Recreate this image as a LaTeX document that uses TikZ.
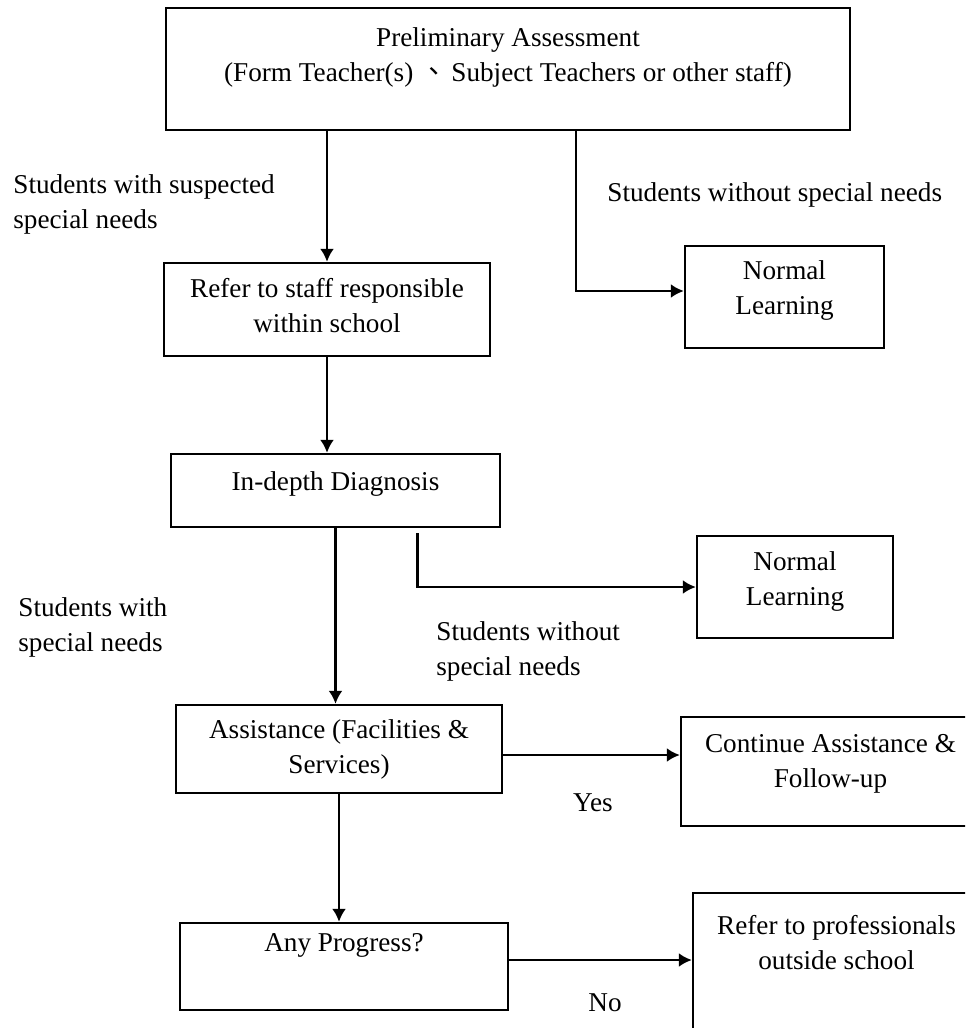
\documentclass[tikz,border=0pt]{standalone}
\usepackage{fontspec}
\setmainfont{Liberation Serif}
\newfontfamily\cjk{Noto Sans CJK TC}
\usetikzlibrary{arrows.meta}

\begin{document}
\fontsize{13.6}{17.5}\selectfont
\begin{tikzpicture}[x=0.5pt,y=-0.5pt,
  box/.style={draw,line width=1.15pt,align=center,inner sep=0pt},
  lbl/.style={align=left,inner sep=0pt,anchor=west},
  arr/.style={draw,line width=1.35pt,-{Latex[length=6.5pt,width=7pt]}}]
\useasboundingbox (0,0) rectangle (965,1028);
\clip (0,0) rectangle (965,1028);

\node[box,minimum width=342pt,minimum height=61pt,text depth=14.5pt] (prelim) at (508,69)
  {Preliminary Assessment\\(Form Teacher(s)\hspace{0.25em}{\cjk 、}\hspace{0.15em}Subject Teachers or other staff)};
\node[box,minimum width=163pt,minimum height=46.5pt,text depth=4.5pt] (staff) at (327,309.5)
  {Refer to staff responsible\\within school};
\node[box,minimum width=99.5pt,minimum height=51pt,text depth=9.5pt] (normal1) at (784.5,297)
  {Normal\\Learning};
\node[box,minimum width=164.5pt,minimum height=36.5pt,text depth=9pt] (diag) at (335.5,490.5)
  {In-depth Diagnosis};
\node[box,minimum width=98pt,minimum height=51pt,text depth=8pt] (normal2) at (795,587)
  {Normal\\Learning};
\node[box,minimum width=163pt,minimum height=44pt] (assist) at (339,749)
  {Assistance (Facilities \&\\Services)};
\node[box,minimum width=149.5pt,minimum height=54.5pt,text depth=11pt] (cont) at (830.5,771.5)
  {Continue Assistance \&\\Follow-up};
\node[box,minimum width=164pt,minimum height=43.5pt,text depth=24pt] (progress) at (344,966.5)
  {Any Progress?};
\node[box,minimum width=143.5pt,minimum height=76pt,text depth=27pt] (prof) at (836.5,969)
  {Refer to professionals\\outside school};

\node[lbl] (suspect) at (13,204) {Students with suspected\\special needs};
\node[lbl] (without1) at (607,195) {Students without special needs};
\node[lbl] (with) at (18,627) {Students with\\special needs};
\node[lbl] (without2) at (436,651) {Students without\\special needs};
\node (yes) at (593,803) {Yes};
\node (no) at (605,1003) {No};

\path[arr] (staff.north |- prelim.south) -- (staff.north);
\path[arr] ([xshift=34pt]prelim.south) |- ([yshift=3pt]normal1.west);
\path[arr] (staff.south) -- (staff.south |- diag.north);
\path[arr] (diag.south) -- (diag.south |- assist.north);
\path[arr] ([xshift=41pt,yshift=-2.5pt]diag.south) |- (normal2);
\path[arr] ([yshift=-3pt]assist.east) -- ([yshift=-3pt]assist.east -| cont.west);
\path[arr] (assist.south) -- (assist.south |- progress.north);
\path[arr] ([yshift=3.25pt]progress.east) -- ([yshift=3.25pt]progress.east -| prof.west);

\end{tikzpicture}
\end{document}
